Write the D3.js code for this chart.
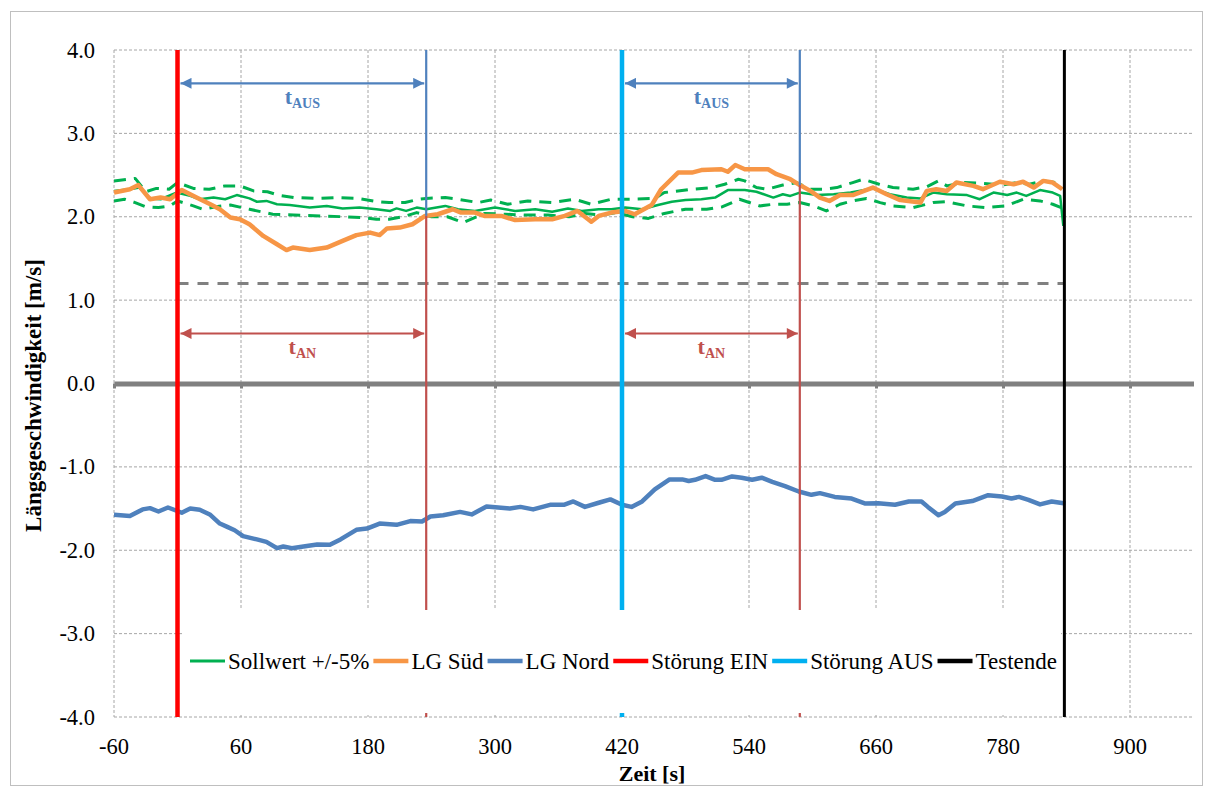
<!DOCTYPE html>
<html>
<head>
<meta charset="utf-8">
<script src="https://cdn.jsdelivr.net/npm/d3@7"></script>
<style>
  html, body { margin: 0; padding: 0; background: #fff; }
  svg { display: block; }
  text { font-family: "Liberation Serif", "Times New Roman", serif; }
</style>
</head>
<body>
<svg id="chart" width="1214" height="787"></svg>
<script>
// ---- measured data ----
// Sollwert (set point) and its +/-5 % band
const sollT = [-60,-45,-36,-26,-16,-1,12,21,34,45,56,68,75,84,94,106,125,141,156,172,188,201,207,216,226,235,253,265,281,300,319,338,354,369,382,398,410,423,439,454,467,480,495,508,520,536,547,563,572,579,588,604,620,636,657,673,689,702,714,727,746,758,771,784,793,802,815,827,834,837];
const sollV = [2.31,2.33,2.35,2.22,2.21,2.29,2.25,2.21,2.23,2.21,2.26,2.22,2.18,2.19,2.15,2.14,2.11,2.13,2.10,2.11,2.09,2.07,2.10,2.07,2.11,2.09,2.13,2.09,2.07,2.11,2.07,2.09,2.06,2.10,2.07,2.09,2.09,2.11,2.09,2.14,2.18,2.20,2.21,2.23,2.32,2.32,2.30,2.23,2.27,2.25,2.29,2.26,2.27,2.29,2.34,2.27,2.23,2.22,2.29,2.27,2.26,2.21,2.29,2.26,2.29,2.25,2.32,2.29,2.25,1.89];

const upperT = [-60,-40,-30,-20,-8,0,15,30,45,59,72,85,95,110,130,150,170,190,200,215,228,235,253,265,284,296,312,331,354,375,391,410,429,451,460,486,505,517,530,536,547,557,572,585,598,610,623,638,648,663,676,695,708,719,727,742,761,780,793,805,818,830,835];
const upperV = [2.43,2.46,2.30,2.34,2.33,2.41,2.34,2.33,2.37,2.37,2.31,2.30,2.26,2.23,2.22,2.23,2.22,2.18,2.17,2.17,2.21,2.22,2.23,2.21,2.17,2.20,2.15,2.19,2.17,2.21,2.15,2.21,2.21,2.22,2.29,2.33,2.35,2.39,2.45,2.43,2.35,2.33,2.38,2.41,2.33,2.33,2.35,2.41,2.45,2.39,2.35,2.33,2.36,2.43,2.37,2.41,2.40,2.38,2.41,2.39,2.43,2.41,2.35];

const lowerT = [-60,-50,-40,-30,-18,-7,0,15,24,36,50,68,90,110,135,157,175,188,200,213,226,240,255,270,290,310,330,350,370,385,400,415,430,445,460,480,500,515,531,550,563,576,588,601,613,626,638,651,664,676,695,714,727,746,764,783,799,815,827,835];
const lowerV = [2.19,2.21,2.17,2.12,2.11,2.13,2.19,2.13,2.09,2.12,2.14,2.09,2.03,2.02,2.01,2.00,1.99,1.97,1.97,2.00,2.05,2.00,2.00,1.93,2.04,2.03,2.02,2.02,2.00,2.04,2.02,2.05,2.00,1.98,2.04,2.09,2.09,2.12,2.21,2.13,2.15,2.15,2.17,2.13,2.07,2.15,2.19,2.22,2.17,2.13,2.11,2.17,2.18,2.13,2.11,2.13,2.21,2.19,2.15,2.11];

// LG Süd
const suedT = [-60,-45,-37,-26,-16,-7,4,18,31,40,50,59,68,81,94,103,109,125,141,156,169,182,191,198,210,222,234,246,260,268,281,290,306,319,338,354,366,378,391,398,410,423,432,448,457,473,486,495,514,520,527,536,544,558,566,579,588,598,607,616,626,638,657,670,683,702,708,717,727,736,752,761,777,790,799,809,818,827,836];
const suedV = [2.29,2.33,2.38,2.21,2.23,2.21,2.32,2.23,2.15,2.09,1.99,1.97,1.91,1.77,1.67,1.60,1.63,1.60,1.63,1.71,1.78,1.81,1.78,1.86,1.87,1.91,2.01,2.03,2.09,2.05,2.05,2.01,2.01,1.96,1.97,1.97,2.01,2.07,1.94,2.01,2.05,2.07,2.03,2.14,2.33,2.53,2.53,2.56,2.57,2.54,2.62,2.57,2.57,2.57,2.51,2.45,2.38,2.31,2.23,2.19,2.26,2.26,2.35,2.27,2.20,2.17,2.31,2.33,2.31,2.41,2.37,2.33,2.42,2.39,2.42,2.35,2.43,2.41,2.33];

// LG Nord
const nordT = [-60,-45,-33,-26,-18,-9,4,12,21,31,40,47,54,62,75,84,94,100,108,119,132,144,154,169,179,191,207,220,231,239,251,267,278,292,314,324,336,352,365,374,385,398,409,420,429,439,451,465,477,483,489,499,508,514,524,533,543,552,562,574,587,599,607,621,637,650,662,678,691,703,709,719,725,735,751,766,779,788,795,804,815,826,839];
const nordV = [-1.575,-1.59,-1.51,-1.495,-1.535,-1.487,-1.55,-1.50,-1.515,-1.575,-1.68,-1.72,-1.76,-1.83,-1.87,-1.90,-1.975,-1.955,-1.975,-1.955,-1.93,-1.935,-1.87,-1.755,-1.74,-1.68,-1.695,-1.65,-1.655,-1.595,-1.58,-1.54,-1.57,-1.475,-1.50,-1.48,-1.51,-1.455,-1.455,-1.415,-1.48,-1.43,-1.39,-1.455,-1.48,-1.415,-1.27,-1.15,-1.15,-1.17,-1.155,-1.11,-1.155,-1.155,-1.115,-1.13,-1.155,-1.13,-1.18,-1.23,-1.295,-1.335,-1.315,-1.36,-1.38,-1.44,-1.435,-1.455,-1.415,-1.415,-1.48,-1.58,-1.54,-1.44,-1.41,-1.34,-1.355,-1.38,-1.36,-1.395,-1.45,-1.415,-1.44];

// events (s)
const eventNames = ["Störung EIN", "Störung AUS", "Testende"];
const eventTimes = [0, 420, 838];
// reaction intervals t_AUS / t_AN: start and end (s)
const spanStart = [0, 420];
const spanEnd = [235, 588];
const levelAUS = 3.6;
const levelAN = 0.6;
// threshold line (m/s)
const threshold = 1.2;

// axis ticks
const xTicks = [-60, 60, 180, 300, 420, 540, 660, 780, 900];
const yTicks = [-4, -3, -2, -1, 0, 1, 2, 3, 4];

const legendNames = ["Sollwert +/-5%", "LG Süd", "LG Nord", "Störung EIN", "Störung AUS", "Testende"];

// ---- styling ----
const C = {
  green: "#00B050", orange: "#F79646", blue: "#4F81BD", red: "#FF0000",
  cyan: "#00B0F0", black: "#000000", darkRed: "#C0504D", grid: "#A6A6A6", axis: "#808080"
};
const FS = 22.5;

const svg = d3.select("#chart");
const x = d3.scaleLinear().domain([-60, 960]).range([114, 1193.5]);
const y = d3.scaleLinear().domain([-4, 4]).range([717, 50]);

// outer frame
svg.append("rect").attr("x", 10.5).attr("y", 11.5).attr("width", 1192).attr("height", 774)
  .attr("fill", "#fff").attr("stroke", "#BFBFBF").attr("stroke-width", 1);

// grid
const grid = svg.append("g");
grid.selectAll("line.h").data(yTicks.filter(d => d !== 0)).join("line")
  .attr("x1", x(-60)).attr("x2", x(960)).attr("y1", d => y(d)).attr("y2", d => y(d))
  .attr("stroke", C.grid).attr("stroke-width", 1).attr("stroke-dasharray", "3,2");
grid.selectAll("line.v").data(xTicks).join("line")
  .attr("x1", d => x(d)).attr("x2", d => x(d)).attr("y1", y(4)).attr("y2", y(-4))
  .attr("stroke", C.grid).attr("stroke-width", 1).attr("stroke-dasharray", "3,2");

// zero axis with ticks
const xAxis = d3.axisBottom(x).tickValues(xTicks).tickSize(5).tickSizeOuter(0).tickFormat("");
const ax = svg.append("g").attr("transform", `translate(0,${y(0)})`).call(xAxis);
ax.select(".domain").attr("stroke", C.axis).attr("stroke-width", 5);
ax.selectAll(".tick line").attr("stroke", C.axis).attr("stroke-width", 3);

// tick labels
svg.append("g").selectAll("text").data(xTicks).join("text")
  .attr("x", d => x(d)).attr("y", 754).attr("text-anchor", "middle")
  .attr("font-size", FS).text(d => d);
svg.append("g").selectAll("text").data(yTicks).join("text")
  .attr("x", 95).attr("y", d => y(d) + 7.5).attr("text-anchor", "end")
  .attr("font-size", FS).text(d => d.toFixed(1));

// axis titles
svg.append("text").attr("transform", `translate(41,${(y(4) + y(-4)) / 2 + 12}) rotate(-90)`)
  .attr("text-anchor", "middle").attr("font-size", 23).attr("font-weight", "bold")
  .text("Längsgeschwindigkeit  [m/s]");
svg.append("text").attr("x", 652).attr("y", 781).attr("text-anchor", "middle")
  .attr("font-size", 22).attr("font-weight", "bold").text("Zeit  [s]");

// threshold
svg.append("line").attr("x1", x(eventTimes[0])).attr("x2", x(eventTimes[2]))
  .attr("y1", y(threshold)).attr("y2", y(threshold))
  .attr("stroke", C.axis).attr("stroke-width", 3).attr("stroke-dasharray", "11,9");

// series
const pts = (t, v) => t.map((d, i) => [d, v[i]]);
const line = d3.line().x(d => x(d[0])).y(d => y(d[1]));
const series = svg.append("g").attr("fill", "none").attr("stroke-linejoin", "round");
series.append("path").attr("d", line(pts(upperT, upperV))).attr("stroke", C.green)
  .attr("stroke-width", 3).attr("stroke-dasharray", "12,8");
series.append("path").attr("d", line(pts(lowerT, lowerV))).attr("stroke", C.green)
  .attr("stroke-width", 3).attr("stroke-dasharray", "12,8");
series.append("path").attr("d", line(pts(sollT, sollV))).attr("stroke", C.green).attr("stroke-width", 2.5);
series.append("path").attr("d", line(pts(suedT, suedV))).attr("stroke", C.orange).attr("stroke-width", 4.5);
series.append("path").attr("d", line(pts(nordT, nordV))).attr("stroke", C.blue).attr("stroke-width", 4.5);

// LG Süd value at a given time (for where interval markers change colour)
const suedAt = t => {
  const i = d3.bisectLeft(suedT, t);
  if (i <= 0) return suedV[0];
  const t0 = suedT[i - 1], t1 = suedT[i];
  return suedV[i - 1] + (suedV[i] - suedV[i - 1]) * (t - t0) / (t1 - t0);
};

// interval end markers: dark red below, blue above the LG Süd curve
const marks = svg.append("g");
marks.selectAll("line.an").data(spanEnd).join("line")
  .attr("x1", d => x(d)).attr("x2", d => x(d)).attr("y1", y(-4)).attr("y2", d => y(suedAt(d)))
  .attr("stroke", C.darkRed).attr("stroke-width", 2.2);
marks.selectAll("line.aus").data(spanEnd).join("line")
  .attr("x1", d => x(d)).attr("x2", d => x(d)).attr("y1", d => y(suedAt(d))).attr("y2", y(4))
  .attr("stroke", C.blue).attr("stroke-width", 2.2);

// event lines
const eventColors = [C.red, C.cyan, C.black];
const eventWidths = [4.5, 4.5, 3];
svg.append("g").selectAll("line").data(eventTimes).join("line")
  .attr("x1", d => x(d)).attr("x2", d => x(d)).attr("y1", y(-4)).attr("y2", y(4))
  .attr("stroke", (d, i) => eventColors[i]).attr("stroke-width", (d, i) => eventWidths[i]);

// arrow markers
const defs = svg.append("defs");
[["aBlue", C.blue], ["aRed", C.darkRed]].forEach(([id, col]) => {
  defs.append("marker").attr("id", id + "E").attr("viewBox", "0 0 10 10").attr("refX", 10).attr("refY", 5)
    .attr("markerWidth", 6).attr("markerHeight", 5).attr("markerUnits", "strokeWidth").attr("orient", "auto")
    .append("path").attr("d", "M0,0 L10,5 L0,10 Z").attr("fill", col);
  defs.append("marker").attr("id", id + "S").attr("viewBox", "0 0 10 10").attr("refX", 0).attr("refY", 5)
    .attr("markerWidth", 6).attr("markerHeight", 5).attr("markerUnits", "strokeWidth").attr("orient", "auto")
    .append("path").attr("d", "M10,0 L0,5 L10,10 Z").attr("fill", col);
});

const arrows = svg.append("g");
function span(level, id, col, sub) {
  spanStart.forEach((s, i) => {
    const x0 = x(s) + 3, x1 = x(spanEnd[i]) - 2;
    arrows.append("line").attr("x1", x0).attr("x2", x1).attr("y1", y(level)).attr("y2", y(level))
      .attr("stroke", col).attr("stroke-width", 2.2)
      .attr("marker-start", `url(#${id}S)`).attr("marker-end", `url(#${id}E)`);
    const t = arrows.append("text").attr("x", (x0 + x1) / 2).attr("y", y(level) + 21)
      .attr("text-anchor", "middle").attr("fill", col).attr("font-weight", "bold").attr("font-size", 22);
    t.append("tspan").text("t");
    t.append("tspan").attr("font-size", 14).attr("dy", 4).text(sub);
  });
}
span(levelAUS, "aBlue", C.blue, "AUS");
span(levelAN, "aRed", C.darkRed, "AN");

// legend
const legend = svg.append("g");
legend.append("rect").attr("x", 184).attr("y", 610).attr("width", 877).attr("height", 103).attr("fill", "#fff");
const legendColors = [C.green, C.orange, C.blue, C.red, C.cyan, C.black];
let lx = 190;
legendNames.forEach((n, i) => {
  legend.append("line").attr("x1", lx).attr("x2", lx + 35).attr("y1", 661).attr("y2", 661)
    .attr("stroke", legendColors[i]).attr("stroke-width", i === 0 ? 3 : 4.5);
  const t = legend.append("text").attr("x", lx + 38).attr("y", 669).attr("font-size", 23).text(n);
  lx += 38 + t.node().getComputedTextLength() + 4;
});
</script>
</body>
</html>
